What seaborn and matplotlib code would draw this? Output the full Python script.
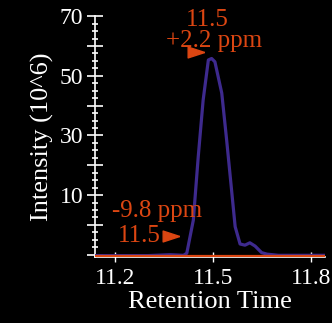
import matplotlib
matplotlib.use("Agg")
import matplotlib.pyplot as plt
from matplotlib.ticker import MultipleLocator, FuncFormatter
import seaborn as sns
import pandas as pd

# Extracted ion chromatogram (intensity in 10^6)
rt_main = [11.139, 11.30, 11.369, 11.41, 11.420, 11.440, 11.455, 11.470, 11.486, 11.496,
           11.506, 11.527, 11.542, 11.557, 11.568, 11.583, 11.598, 11.613, 11.629,
           11.649, 11.665, 11.70, 11.843]
int_main = [-10.3, -10.3, -10.0, -10.2, -9.5, 1.6, 22.8, 41.8, 55.3, 55.8,
            54.7, 44.2, 28.4, 11.7, -0.6, -6.4, -6.8, -6.0, -7.1,
            -9.3, -9.8, -10.2, -10.2]

# Second mass trace, flat at the baseline
rt_alt = [11.139, 11.843]
int_alt = [-10.3, -10.3]

x_ticks = [11.2, 11.5, 11.8]
y_labels = [10, 30, 50, 70]

# Precursor markers and their labels
peak_mark = (11.447, 57.9)
peak_rt_label, peak_ppm_label = "11.5", "+2.2 ppm"
alt_mark = (11.373, -3.7)
alt_rt_label, alt_ppm_label = "11.5", "-9.8 ppm"

orange = "#DC4612"
purple = "#3E2A8E"
tri = [(1, 0), (-1, -0.65), (-1, 0.65), (1, 0)]

sns.set_theme(style="dark")
plt.rcParams["font.family"] = ["Liberation Serif", "DejaVu Serif"]

fig = plt.figure(figsize=(3.32, 3.23), dpi=100, facecolor="black")
ax = fig.add_axes([0.286, 0.204, 0.693, 0.746])
ax.set_facecolor("black")

df_main = pd.DataFrame({"rt": rt_main, "intensity": int_main})
df_alt = pd.DataFrame({"rt": rt_alt, "intensity": int_alt})
sns.lineplot(data=df_main, x="rt", y="intensity", ax=ax, color=purple, linewidth=2.3,
             estimator=None, sort=False, zorder=3)
sns.lineplot(data=df_alt, x="rt", y="intensity", ax=ax, color=orange, linewidth=1.6,
             estimator=None, sort=False, zorder=4)

ax.set_xlim(11.139, 11.843)
ax.set_ylim(-10.8, 70)

for s in ["top", "right"]:
    ax.spines[s].set_visible(False)
for s in ["left", "bottom"]:
    ax.spines[s].set_color("white")
    ax.spines[s].set_linewidth(1.2)

ax.set_xticks(x_ticks)
ax.xaxis.set_major_formatter(FuncFormatter(lambda v, p: f"{v:.1f}"))
ax.yaxis.set_major_locator(MultipleLocator(10))
ax.yaxis.set_minor_locator(MultipleLocator(2.5))
ax.yaxis.set_major_formatter(FuncFormatter(
    lambda v, p: f"{int(round(v))}" if int(round(v)) in y_labels else ""))

ax.tick_params(axis="x", colors="white", direction="inout", length=7, width=1,
               labelsize=17, pad=4, bottom=True)
ax.tick_params(axis="y", which="major", colors="white", direction="inout", length=11,
               width=1.2, labelsize=17, pad=3, left=True)
ax.tick_params(axis="y", which="minor", colors="white", direction="inout", length=5,
               width=1.2, left=True)
ax.grid(False)

ax.set_xlabel("Retention Time", color="white", fontsize=19, labelpad=2)
ax.set_ylabel("Intensity (10^6)", color="white", fontsize=19, labelpad=4)

# Precursor annotations
ax.plot([peak_mark[0]], [peak_mark[1]], marker=tri, color=orange, markersize=12,
        linestyle="none", zorder=5)
ax.text(11.483, 66.7, peak_rt_label, color=orange, fontsize=18,
        ha="center", va="baseline", zorder=5)
ax.text(11.503, 59.6, peak_ppm_label, color=orange, fontsize=18,
        ha="center", va="baseline", zorder=5)
ax.plot([alt_mark[0]], [alt_mark[1]], marker=tri, color=orange, markersize=12,
        linestyle="none", zorder=5)
ax.text(11.467, 2.5, alt_ppm_label, color=orange, fontsize=18,
        ha="right", va="baseline", zorder=5)
ax.text(11.341, -5.9, alt_rt_label, color=orange, fontsize=18,
        ha="right", va="baseline", zorder=5)

fig.savefig("out.png", dpi=100, facecolor="black")
